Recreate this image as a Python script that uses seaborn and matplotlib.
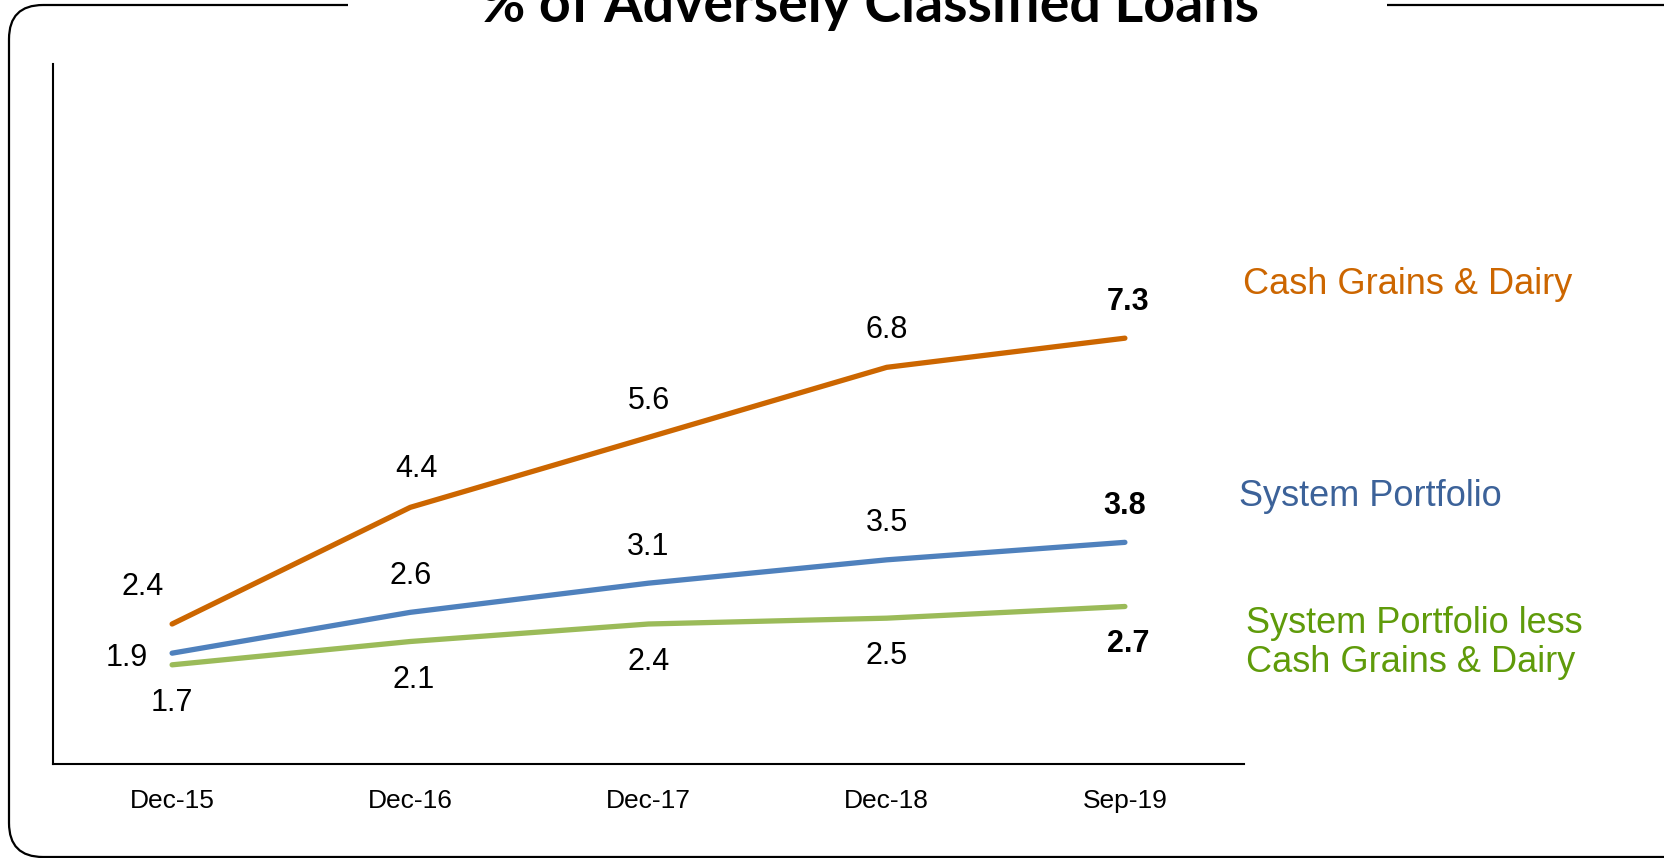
import matplotlib
matplotlib.use("Agg")
import matplotlib.pyplot as plt
from matplotlib.patches import FancyBboxPatch, Rectangle
import seaborn as sns
import pandas as pd

# ---- data ----
periods = ["Dec-15", "Dec-16", "Dec-17", "Dec-18", "Sep-19"]
cash_grains_dairy = [2.4, 4.4, 5.6, 6.8, 7.3]
system_portfolio = [1.9, 2.6, 3.1, 3.5, 3.8]
system_less_cgd = [1.7, 2.1, 2.4, 2.5, 2.7]
series_names = ["Cash Grains & Dairy", "System Portfolio",
                "System Portfolio less\nCash Grains & Dairy"]
title = "% of Adversely Classified Loans"

# ---- styling ----
line_colors = ["#CC6600", "#4F81BD", "#9BBB59"]
text_colors = ["#CC6600", "#3C6299", "#5F9B0A"]

# value-label offsets in pixels (dx, dy) per series / point
label_offsets = [
    [(-29, 37), (6, 38), (0, 36), (0, 37), (3, 36)],
    [(-45, -5), (0, 36), (0, 36), (0, 37), (0, 36)],
    [(0, -38), (3, -38), (0, -38), (0, -38), (3, -38)],
]

W, H = 1664, 858
sns.set_theme(style="white")
plt.rcParams["font.family"] = ["Liberation Sans", "DejaVu Sans"]

fig = plt.figure(figsize=(W / 100, H / 100), dpi=100)
fig.patch.set_facecolor("white")

# background canvas in pixel units for the rounded frame
bg = fig.add_axes([0, 0, 1, 1], zorder=0)
bg.set_xlim(0, W)
bg.set_ylim(H, 0)
bg.axis("off")
frame = FancyBboxPatch((9, 5), 1720, 852,
                       boxstyle="round,pad=0,rounding_size=34",
                       fill=False, edgecolor="black", linewidth=1.6)
bg.add_patch(frame)
bg.add_patch(Rectangle((348, 0), 1387 - 348, 14, facecolor="white",
                       edgecolor="none", zorder=3))

# main chart
ax = fig.add_axes([53 / W, 1 - 764 / H, (1244 - 53) / W, (764 - 64) / H],
                  zorder=1)
ax.patch.set_alpha(0)

df = pd.DataFrame({
    "period": periods * 3,
    "value": cash_grains_dairy + system_portfolio + system_less_cgd,
    "series": [series_names[0]] * 5 + [series_names[1]] * 5 + [series_names[2]] * 5,
})
sns.lineplot(data=df, x="period", y="value", hue="series", sort=False,
             palette=dict(zip(series_names, line_colors)), linewidth=3.8,
             legend=False, ax=ax, solid_capstyle="round")

ax.set_xlim(-0.5, 4.5)
ax.set_ylim(0, 12)
ax.set_xlabel("")
ax.set_ylabel("")
ax.set_yticks([])
ax.set_xticks(range(len(periods)))
ax.set_xticklabels(periods, fontsize=19)
ax.tick_params(axis="x", length=0, pad=18, colors="black")
for side in ["top", "right"]:
    ax.spines[side].set_visible(False)
for side in ["left", "bottom"]:
    ax.spines[side].set_color("black")
    ax.spines[side].set_linewidth(1.5)

all_series = [cash_grains_dairy, system_portfolio, system_less_cgd]
for s, vals in enumerate(all_series):
    for i, v in enumerate(vals):
        dx, dy = label_offsets[s][i]
        ax.annotate(f"{v:.1f}", xy=(i, v), xytext=(dx, dy),
                    textcoords="offset pixels", ha="center", va="center",
                    fontsize=22, color="black",
                    fontweight="bold" if i == len(vals) - 1 else "normal",
                    annotation_clip=False)

# series names at the right
name_pos = [(1243, 285), (1239, 497), (1246, 643)]
name_spacing = [1.0, 1.0, 1.15]
for name, (px, py), col, ls in zip(series_names, name_pos, text_colors, name_spacing):
    fig.text(px / W, 1 - py / H, name, color=col, fontsize=26,
             ha="left", va="center", linespacing=ls)

fig.text(870 / W, 1 - 22 / H, title, ha="center", va="baseline",
         fontsize=40, fontweight="bold", color="black",
         family=["Lato", "DejaVu Sans"], zorder=5)

fig.savefig("out.png", dpi=100)
